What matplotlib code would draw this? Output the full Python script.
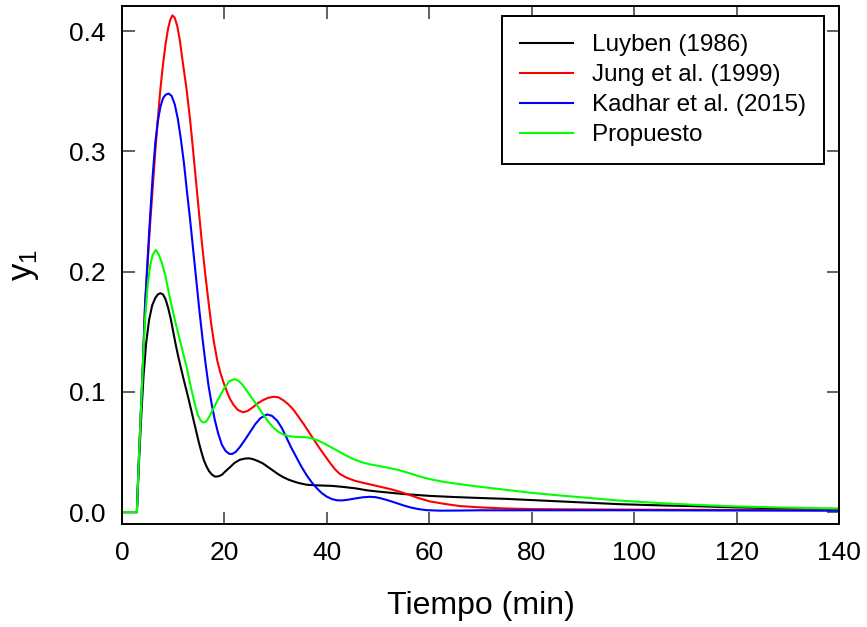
import matplotlib
matplotlib.use('Agg')
import matplotlib.pyplot as plt

plt.rcParams['font.family'] = ['Liberation Sans', 'DejaVu Sans']
plt.rcParams['mathtext.fontset'] = 'custom'
plt.rcParams['mathtext.rm'] = 'Liberation Sans'
plt.rcParams['mathtext.it'] = 'Liberation Sans'

# Luyben (1986)
t_luyben = [0, 2.9, 3.3, 3.7, 4.2, 4.7, 5.3, 5.9, 6.5, 7.0, 7.5, 8.0, 8.5, 9.0, 9.5,
            10.0, 10.5, 11.0, 12.0, 13.0, 14.0, 14.5, 15.0, 15.5, 16.0, 16.5, 17.0,
            17.6, 18.2, 18.8, 19.5, 20.1, 21.0, 22.0, 23.0, 24.0, 24.8, 25.6, 26.5,
            27.5, 28.5, 29.5, 30.5, 31.5, 32.5, 33.5, 34.5, 36.0, 37.5, 39.0, 41.0, 43.0,
            45.5, 48.0, 50.4, 55, 60, 65, 70, 75, 80, 85, 90, 97, 105, 112, 120, 130, 140]
y_luyben = [0, 0, 0.04, 0.075, 0.113, 0.14, 0.160, 0.172, 0.178, 0.181, 0.182, 0.181,
            0.177, 0.170, 0.161, 0.150, 0.139, 0.129, 0.111, 0.094, 0.076, 0.067, 0.058,
            0.050, 0.043, 0.038, 0.034, 0.031, 0.0295, 0.0297, 0.031, 0.0335, 0.037,
            0.041, 0.0435, 0.0445, 0.0447, 0.044, 0.0425, 0.0405, 0.0375, 0.0345,
            0.0315, 0.029, 0.027, 0.0255, 0.0242, 0.0228, 0.0223, 0.0221, 0.0218, 0.021,
            0.0198, 0.018, 0.0169, 0.015, 0.0135, 0.0125, 0.0117, 0.011, 0.0100, 0.009,
            0.008, 0.0066, 0.0056, 0.0049, 0.0039, 0.003, 0.0022]

# Jung et al. (1999)
t_jung = [0, 2.9, 3.3, 3.7, 4.1, 4.5, 5.0, 5.5, 6.0, 6.5, 7.0, 7.5, 8.0, 8.5, 9.0, 9.4,
          9.85, 10.3, 10.8, 11.3, 11.9, 12.6, 13.3, 13.9, 14.5, 15.1, 15.6, 16.2, 16.8,
          17.4, 18.0, 18.6, 19.2, 19.8, 20.5, 21.1, 21.8, 22.6, 23.6, 24.5, 25.5, 26.5,
          27.5, 28.5, 29.6, 30.5, 31.5, 32.5, 33.5, 34.5, 35.5, 36.5, 37.5, 38.5, 39.6,
          40.6, 41.6, 42.6, 43.9, 45.5, 47.1, 49, 51, 52.5, 54, 56, 58, 60, 63, 66, 70,
          75, 80, 90, 100, 120, 140]
y_jung = [0, 0, 0.045, 0.085, 0.125, 0.172, 0.207, 0.24, 0.27, 0.30, 0.327, 0.352,
          0.372, 0.389, 0.402, 0.409, 0.413, 0.411, 0.404, 0.392, 0.373, 0.352, 0.326,
          0.300, 0.273, 0.246, 0.224, 0.200, 0.178, 0.157, 0.140, 0.126, 0.116, 0.108,
          0.100, 0.094, 0.089, 0.085, 0.083, 0.084, 0.087, 0.0905, 0.093, 0.095, 0.0959,
          0.0955, 0.093, 0.0895, 0.085, 0.079, 0.073, 0.0665, 0.060, 0.0535, 0.047,
          0.041, 0.0355, 0.0315, 0.0285, 0.026, 0.0243, 0.0225, 0.0205, 0.019, 0.0172,
          0.0145, 0.0115, 0.009, 0.0068, 0.005, 0.0039, 0.003, 0.0025, 0.0022, 0.002,
          0.0018, 0.0015]

# Kadhar et al. (2015)
t_kadhar = [0, 2.9, 3.3, 3.7, 4.1, 4.5, 5.0, 5.5, 6.0, 6.5, 7.0, 7.5, 8.0, 8.5, 9.1,
            9.7, 10.3, 10.9, 11.5, 12.1, 12.7, 13.3, 13.9, 14.5, 15.1, 15.7, 16.3, 16.9,
            17.5, 18.1, 18.8, 19.5, 20.2, 20.9, 21.5, 22.2, 23.0, 24.0, 25.0, 26.0, 27.0,
            28.3, 29.3, 30.3, 31.2, 32.0, 33.0, 34.0, 35.0, 36.0, 37.0, 38.0, 39.0, 40.0,
            41.0, 42.0, 43.0, 44.0, 45.5, 47.0, 48.4, 49.5, 50.5, 52.0, 53.6, 55.0, 56.5,
            58.0, 59.5, 62, 66, 70, 80, 100, 120, 140]
y_kadhar = [0, 0, 0.045, 0.085, 0.125, 0.172, 0.21, 0.247, 0.28, 0.307, 0.325, 0.337,
            0.344, 0.347, 0.348, 0.346, 0.339, 0.327, 0.310, 0.29, 0.266, 0.243, 0.218,
            0.193, 0.168, 0.145, 0.124, 0.105, 0.090, 0.077, 0.065, 0.056, 0.051,
            0.0485, 0.0483, 0.050, 0.054, 0.060, 0.0665, 0.073, 0.078, 0.0812, 0.080,
            0.076, 0.070, 0.063, 0.054, 0.046, 0.038, 0.031, 0.025, 0.020, 0.0158,
            0.0128, 0.0108, 0.0098, 0.0097, 0.0102, 0.0113, 0.0123, 0.0127, 0.0124,
            0.0115, 0.0097, 0.0075, 0.0055, 0.0037, 0.0024, 0.0016, 0.0012, 0.0013,
            0.0015, 0.0015, 0.0015, 0.0013, 0.0012]

# Propuesto
t_prop = [0, 2.9, 3.3, 3.7, 4.1, 4.5, 5.0, 5.5, 6.0, 6.6, 7.2, 7.8, 8.5, 9.4, 10.2,
          11.0, 12.0, 12.6, 13.5, 14.2, 14.8, 15.3, 15.8, 16.4, 17.0, 17.7, 18.5, 19.3,
          20.1, 21.0, 22.0, 22.8, 23.5, 24.5, 25.5, 26.5, 27.5, 28.5, 29.5, 30.5, 31.5,
          32.5, 34.0, 35.5, 36.5, 37.5, 38.5, 39.6, 41, 42.5, 44, 45.5, 47, 48.5, 50,
          52, 54, 56, 58, 60, 63, 66, 70, 75, 80, 85, 90, 97, 105, 112, 120, 130, 140]
y_prop = [0, 0, 0.045, 0.085, 0.125, 0.16, 0.188, 0.205, 0.214, 0.218, 0.214, 0.207,
          0.196, 0.177, 0.162, 0.148, 0.131, 0.121, 0.103, 0.090, 0.081, 0.0765,
          0.0745, 0.075, 0.079, 0.085, 0.0915, 0.098, 0.104, 0.109, 0.1106, 0.109,
          0.106, 0.100, 0.094, 0.088, 0.0815, 0.0755, 0.0705, 0.0668, 0.0645, 0.0632,
          0.0625, 0.0623, 0.062, 0.0607, 0.059, 0.0568, 0.0535, 0.050, 0.0465, 0.0435,
          0.0412, 0.0396, 0.0385, 0.0368, 0.035, 0.0325, 0.0298, 0.0275, 0.025, 0.0232,
          0.021, 0.0185, 0.016, 0.014, 0.0122, 0.0096, 0.0075, 0.006, 0.0047, 0.0037,
          0.003]

fig = plt.figure(figsize=(8.67, 6.27), dpi=100)
ax = fig.add_axes([122/867, 1-524/627, 717/867, 518/627])

ax.plot(t_luyben, y_luyben, color='black', lw=1.5, label='Luyben (1986)')
ax.plot(t_jung, y_jung, color='#ff0000', lw=1.5, label='Jung et al. (1999)')
ax.plot(t_kadhar, y_kadhar, color='#0000ff', lw=1.5, label='Kadhar et al. (2015)')
ax.plot(t_prop, y_prop, color='#00ff00', lw=1.5, label='Propuesto')

ax.set_xlim(0, 140)
ax.set_ylim(-0.0099, 0.4208)
ax.set_xticks(range(0, 141, 20))
ax.set_yticks([0.0, 0.1, 0.2, 0.3, 0.4])
ax.set_yticklabels(['0.0', '0.1', '0.2', '0.3', '0.4'])

ax.tick_params(direction='in', length=9, width=1.3, color='#555555',
               labelsize=19, top=True, right=True)
ax.tick_params(axis='x', pad=12)
ax.tick_params(axis='y', pad=12)
for s in ax.spines.values():
    s.set_linewidth(1.4)

ax.set_xlabel('Tiempo (min)', fontsize=23, labelpad=19)
ax.set_ylabel(r'$\mathregular{y_1}$', fontsize=25, labelpad=20)

leg = ax.legend(loc='upper right', bbox_to_anchor=(0.979, 0.981), fontsize=17.5,
                frameon=True, fancybox=False, edgecolor='black', framealpha=1,
                handlelength=2.2, handletextpad=0.75, labelspacing=0.33,
                borderpad=0.75, borderaxespad=0)
leg.get_frame().set_linewidth(1.4)

fig.savefig('out.png', dpi=100)
